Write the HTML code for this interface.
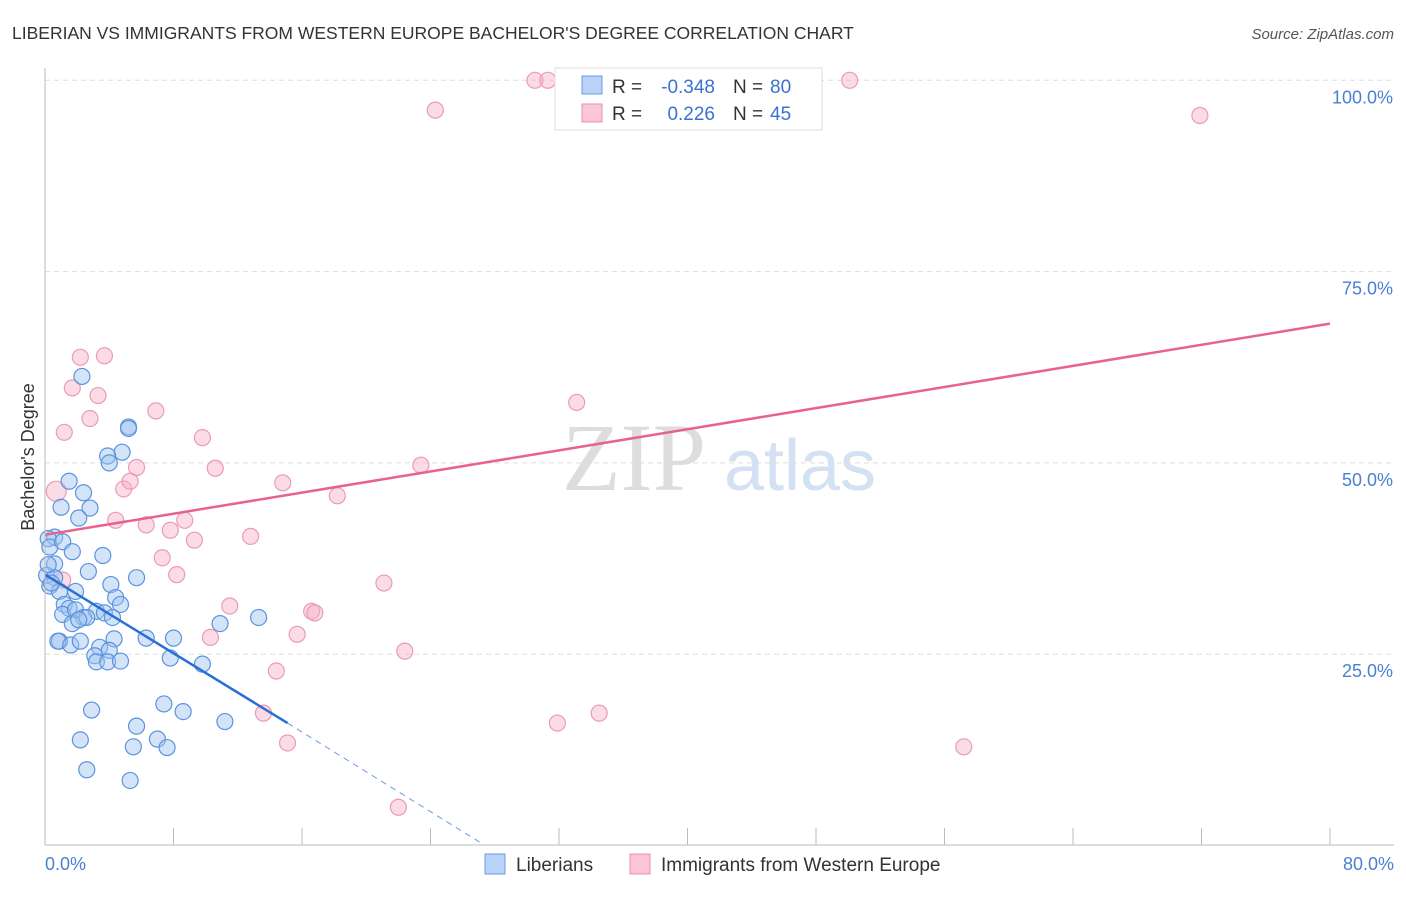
<!DOCTYPE html>
<html><head><meta charset="utf-8"><style>
body{margin:0;background:#fff;font-family:"Liberation Sans",sans-serif;}
</style></head><body>
<svg id="c" width="1406" height="892" xmlns="http://www.w3.org/2000/svg">
<text x="12" y="39" font-size="17.5" fill="#333">LIBERIAN VS IMMIGRANTS FROM WESTERN EUROPE BACHELOR'S DEGREE CORRELATION CHART</text>
<text x="1394" y="39" font-size="15" fill="#555" font-style="italic" text-anchor="end">Source: ZipAtlas.com</text>
<text x="634" y="490" font-size="96" fill="#ddd" font-family="Liberation Serif" text-anchor="middle">ZIP</text>
<text x="800" y="490" font-size="72" fill="#d3e1f3" text-anchor="middle">atlas</text>
<text x="34" y="457" font-size="18" fill="#333" text-anchor="middle" transform="rotate(-90 34 457)">Bachelor's Degree</text>
<g id="grid"></g><g id="pts"></g><g id="lines"></g>
<line x1="45" y1="68" x2="45" y2="845" stroke="#bbb"/>
<line x1="45" y1="845" x2="1394" y2="845" stroke="#bbb"/>
<text x="45" y="870" font-size="18" fill="#4a7fd4">0.0%</text>
<text x="1394" y="870" font-size="18" fill="#4a7fd4" text-anchor="end">80.0%</text>
<g>
<rect x="555" y="68" width="267" height="62" fill="#fff" stroke="#ddd"/>
<rect x="582" y="76" width="20" height="18" fill="#b8d3f5" stroke="#6a9be0"/>
<rect x="582" y="104" width="20" height="18" fill="#f9c7d6" stroke="#e891ad"/>
<text x="612" y="93" font-size="19" fill="#333">R =</text>
<text x="715" y="93" font-size="19" fill="#3a72d0" text-anchor="end">-0.348</text>
<text x="733" y="93" font-size="19" fill="#333">N =</text>
<text x="770" y="93" font-size="19" fill="#3a72d0">80</text>
<text x="612" y="120" font-size="19" fill="#333">R =</text>
<text x="715" y="120" font-size="19" fill="#3a72d0" text-anchor="end">0.226</text>
<text x="733" y="120" font-size="19" fill="#333">N =</text>
<text x="770" y="120" font-size="19" fill="#3a72d0">45</text>
</g>
<g>
<rect x="485" y="854" width="20" height="20" fill="#b8d3f5" stroke="#6a9be0"/>
<text x="516" y="871" font-size="19" fill="#333">Liberians</text>
<rect x="630" y="854" width="20" height="20" fill="#f9c7d6" stroke="#e891ad"/>
<text x="661" y="871" font-size="19" fill="#333">Immigrants from Western Europe</text>
</g>
</svg>
<script>
const yTicks=[25,50,75,100];
const xTicks=[0,8,16,24,32,40,48,56,64,72,80];
const blueX=[2.3,5.2,5.2,4.8,3.9,4.0,1.5,2.4,1.0,2.8,2.1,0.6,0.2,0.3,1.1,1.7,3.6,0.6,2.7,0.1,0.6,5.7,4.1,0.3,0.9,1.9,4.4,4.7,1.2,1.5,1.1,1.9,3.2,3.7,2.4,2.6,4.2,1.7,2.1,10.9,13.3,0.9,0.8,1.6,2.2,4.3,6.3,8.0,3.4,4.0,3.1,3.2,3.9,4.7,7.8,9.8,2.9,7.4,8.6,5.7,11.2,2.2,7.0,5.5,7.6,2.6,5.3,0.4,0.2];
const blueY=[61.3,54.7,54.5,51.4,50.9,50.0,47.6,46.1,44.2,44.1,42.8,40.3,40.1,39.0,39.7,38.4,37.9,36.8,35.8,35.3,35.0,35.0,34.1,33.9,33.2,33.2,32.4,31.5,31.5,31.0,30.2,30.8,30.6,30.4,29.8,29.8,29.8,29.0,29.5,29.0,29.8,26.7,26.7,26.2,26.7,27.0,27.1,27.1,25.9,25.5,24.8,24.0,24.0,24.1,24.5,23.7,17.7,18.5,17.5,15.6,16.2,13.8,13.9,12.9,12.8,9.9,8.5,34.3,36.7];
const pinkX=[0.7,30.5,31.3,50.1,24.3,71.9,2.2,3.7,1.7,3.3,1.2,2.8,6.9,9.8,33.1,5.7,10.6,23.4,4.9,5.3,14.8,18.2,4.4,6.3,8.7,7.8,9.3,12.8,7.3,8.2,1.1,11.5,16.6,16.8,15.7,10.3,21.1,22.4,14.4,13.6,15.1,31.9,34.5,57.2,22.0];
const pinkY=[46.3,100,100,100,96.1,95.4,63.8,64.0,59.8,58.8,54.0,55.8,56.8,53.3,57.9,49.4,49.3,49.7,46.6,47.6,47.4,45.7,42.5,41.9,42.5,41.2,39.9,40.4,37.6,35.4,34.7,31.3,30.6,30.4,27.6,27.2,34.3,25.4,22.8,17.3,13.4,16.0,17.3,12.9,5.0];
const X=v=>45+v*1285/80, Y=v=>845.5-v*7.652;
const NS='http://www.w3.org/2000/svg';
function mk(t,a,p){const e=document.createElementNS(NS,t);for(const k in a)e.setAttribute(k,a[k]);p.appendChild(e);return e;}
const g=document.getElementById('grid');
yTicks.forEach(v=>{
 const l=mk('line',{x1:45,x2:1394,y1:Y(v),y2:Y(v),stroke:'#ddd','stroke-dasharray':'5,4'},g);
 
 
 const t=mk('text',{x:1393,y:Y(v)+23,'font-size':18,fill:'#4a7fd4','text-anchor':'end'},g);t.textContent=v.toFixed(1)+'%';
 
 
});
xTicks.forEach(v=>{
 const l=mk('line',{x1:X(v),x2:X(v),y1:828,y2:845,stroke:'#bbb'},g);
 
 
});
const p=document.getElementById('pts');
pinkX.forEach((x,i)=>{const c=mk('circle',{cx:X(x),cy:Y(pinkY[i]),r:i==0?10:8,fill:'rgba(246,176,199,0.45)',stroke:'#eb9bb6','stroke-width':1.2},p);
 
 });
blueX.forEach((x,i)=>{const c=mk('circle',{cx:X(x),cy:Y(blueY[i]),r:8,fill:'rgba(160,196,240,0.45)',stroke:'#5b93de','stroke-width':1.2},p);
 
 });
const L=document.getElementById('lines');
let e=mk('line',{x1:X(0),y1:Y(40.6),x2:X(80),y2:Y(68.2),stroke:'#e8628e','stroke-width':2.5},L);


e=mk('line',{x1:X(0),y1:Y(35.4),x2:X(15.1),y2:Y(16.0),stroke:'#2a6fd6','stroke-width':2.5},L);


e=mk('line',{x1:X(15.1),y1:Y(16.0),x2:X(27.4),y2:Y(0),stroke:'#6a9be0','stroke-width':1,'stroke-dasharray':'6,5'},L);


</script>
</body></html>
